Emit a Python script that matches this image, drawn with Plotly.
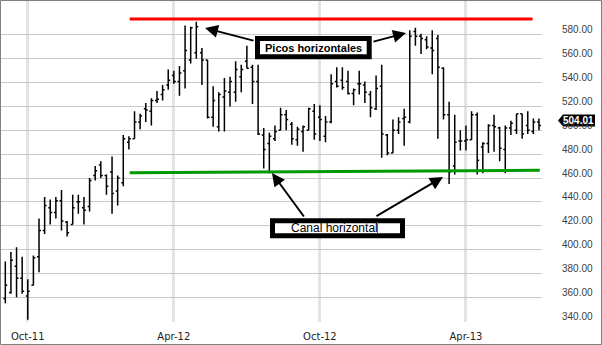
import plotly.graph_objects as go
import pandas as pd

# ---- weekly OHLC values ----
opens = [359, 364, 386, 376, 361, 370, 394, 416, 435, 431, 441, 423, 421, 440, 435, 436,
         462, 471, 462, 465, 449, 456, 490, 493, 507, 518, 516, 525, 530, 538, 546, 541,
         550, 559, 565, 565, 559, 511, 503, 528, 532, 532, 545, 558, 553, 541, 496, 489,
         493, 500, 513, 505, 492, 499, 500, 516, 511, 495, 507, 541, 542, 541, 531, 539,
         538, 530, 518, 537, 496, 481, 500, 510, 507, 583, 579, 576, 569, 577, 552, 513,
         470, 491, 491, 492, 513, 486, 489, 504, 502, 484, 502, 500, 514, 504, 499, 507]
highs = [390, 398, 402, 394, 375, 395, 426, 444, 442, 444, 450, 424, 446, 446, 444, 460,
         470, 474, 463, 478, 462, 496, 495, 516, 514, 523, 527, 533, 538, 551, 550, 554,
         588, 587, 591, 569, 559, 537, 532, 544, 545, 558, 555, 571, 555, 555, 502, 498,
         504, 519, 517, 507, 503, 504, 519, 522, 521, 512, 547, 553, 553, 550, 535, 550,
         541, 533, 546, 555, 497, 509, 511, 518, 584, 586, 581, 579, 584, 580, 553, 524,
         513, 500, 504, 516, 515, 490, 505, 513, 503, 504, 508, 514, 514, 516, 510, 510]
lows = [355, 363, 360, 363, 341, 370, 381, 413, 421, 426, 416, 411, 421, 430, 421, 432,
        458, 460, 446, 430, 437, 453, 484, 493, 501, 507, 504, 523, 525, 534, 539, 529,
        535, 556, 560, 538, 510, 503, 499, 499, 520, 524, 532, 552, 522, 496, 468, 464,
        491, 500, 500, 488, 487, 482, 500, 492, 491, 490, 506, 536, 534, 530, 521, 530,
        523, 511, 517, 477, 479, 481, 497, 487, 506, 571, 564, 568, 547, 493, 509, 455,
        463, 483, 483, 492, 463, 464, 481, 482, 474, 464, 496, 497, 493, 497, 497, 500]
closes = [370, 391, 376, 365, 365, 393, 416, 437, 431, 441, 424, 414, 435, 440, 433, 458,
          466, 462, 453, 447, 460, 493, 493, 507, 512, 517, 525, 526, 534, 542, 541, 548,
          567, 586, 587, 559, 511, 525, 530, 533, 541, 551, 551, 552, 541, 497, 484, 495,
          499, 513, 509, 493, 501, 503, 518, 497, 509, 507, 539, 537, 536, 531, 534, 539,
          532, 519, 535, 497, 481, 500, 507, 511, 579, 579, 577, 570, 567, 553, 513, 465,
          490, 491, 492, 513, 475, 489, 504, 503, 485, 502, 506, 514, 497, 500, 507, 504.01]
week_dates = pd.date_range("2011-09-05", periods=len(closes), freq="7D")

# axis ticks
x_tick_dates = ["2011-10-03", "2012-04-02", "2012-10-01", "2013-04-01"]
y_grid = [340, 360, 380, 400, 420, 440, 460, 480, 500, 520, 540, 560, 580]

# horizontal lines
resistance_x = ["2012-02-07", "2013-06-23"]
resistance_y = [593.3, 593.3]
support_x = ["2012-02-07", "2013-07-02"]
support_y = [464.5, 466.5]

W, H = 602, 345
ML, MR, MT, MB = 1, 60, 1, 23
PW, PH = W - ML - MR, H - MT - MB


def px(x):
    return (x - ML) / PW


def py(y):
    return 1 - (y - MT) / PH


fig = go.Figure()
fig.add_trace(go.Ohlc(
    x=week_dates, open=opens, high=highs, low=lows, close=closes,
    increasing=dict(line=dict(color="black", width=1.5)),
    decreasing=dict(line=dict(color="black", width=1.5)),
    tickwidth=0.35, hoverinfo="skip", showlegend=False,
))
fig.add_trace(go.Scatter(x=resistance_x, y=resistance_y, mode="lines",
                         line=dict(color="#ff0000", width=3), hoverinfo="skip", showlegend=False))
fig.add_trace(go.Scatter(x=support_x, y=support_y, mode="lines",
                         line=dict(color="#009a00", width=3), hoverinfo="skip", showlegend=False))

shapes = []
annotations = []

# boxes
shapes.append(dict(type="rect", xref="paper", yref="paper",
                   x0=px(257.5), x1=px(369.2), y0=py(56.8), y1=py(38.5),
                   line=dict(color="black", width=5), fillcolor="white", layer="above"))
shapes.append(dict(type="rect", xref="paper", yref="paper",
                   x0=px(272.5), x1=px(402.5), y0=py(235.8), y1=py(220.8),
                   line=dict(color="black", width=5), fillcolor="white", layer="above"))
# text cursor
shapes.append(dict(type="line", xref="paper", yref="paper",
                   x0=px(377.5), x1=px(377.5), y0=py(233), y1=py(222),
                   line=dict(color="#2a6fd6", width=1), layer="above"))

annotations.append(dict(xref="paper", yref="paper", x=px(313.5), y=py(47.6),
                        xanchor="center", yanchor="middle",
                        text="<b>Picos horizontales</b>", showarrow=False,
                        font=dict(family="Liberation Sans", size=11, color="black")))
annotations.append(dict(xref="paper", yref="paper", x=px(334.5), y=py(228.3),
                        xanchor="center", yanchor="middle",
                        text="Canal horizontal", showarrow=False,
                        font=dict(family="Liberation Sans", size=12, color="black")))

# arrows: (tail_x, tail_y, head_x, head_y) in pixels
arrows = [(255, 41, 205, 28), (372, 42, 406, 33), (305, 218, 272, 173), (375, 217, 443, 177)]
for tx, ty, hx, hy in arrows:
    annotations.append(dict(xref="paper", yref="paper", x=px(hx), y=py(hy),
                            ax=tx - hx, ay=ty - hy, axref="pixel", ayref="pixel",
                            text="", showarrow=True, arrowhead=2, arrowsize=1.3,
                            arrowwidth=2, arrowcolor="black", standoff=0, startstandoff=0))

# y tick labels (drawn slightly above their gridlines)
for v in y_grid:
    annotations.append(dict(xref="paper", yref="y", x=1, y=v, xanchor="center",
                            yanchor="middle", xshift=35, yshift=5, text=f"{v:.2f}",
                            showarrow=False,
                            font=dict(family="Liberation Sans", size=10, color="#404040")))

# last price tag
last = closes[-1]
shapes.append(dict(type="path", xref="paper", yref="y", xsizemode="pixel", ysizemode="pixel",
                   xanchor=1, yanchor=last,
                   path="M16,5 L21,11 L53,11 L53,-1 L21,-1 Z",
                   fillcolor="black", line=dict(color="black", width=0), layer="above"))
annotations.append(dict(xref="paper", yref="y", x=1, y=last, xanchor="center",
                        yanchor="middle", xshift=36, yshift=5, text=f"<b>{last:.2f}</b>",
                        showarrow=False,
                        font=dict(family="Liberation Sans", size=10, color="white")))

# outer frame
shapes.append(dict(type="rect", xref="paper", yref="paper",
                   x0=px(0.5), x1=px(601.5), y0=py(344.5), y1=py(0.5),
                   line=dict(color="#808080", width=1), layer="above"))

fig.update_layout(
    width=W, height=H,
    margin=dict(l=ML, r=MR, t=MT, b=MB, pad=0),
    paper_bgcolor="white", plot_bgcolor="white",
    showlegend=False,
    shapes=shapes, annotations=annotations,
    xaxis=dict(type="date", range=["2011-08-30 15:00", "2013-07-04 18:00"],
               tickvals=x_tick_dates, tickformat="%b-%y",
               showgrid=True, gridcolor="#e3e3e3", gridwidth=3,
               zeroline=False, showline=False, ticks="", ticklabelstandoff=7,
               rangeslider=dict(visible=False),
               tickfont=dict(family="DejaVu Sans", size=10, color="#222222")),
    yaxis=dict(range=[339.2, 608.5], tickvals=y_grid, showticklabels=False,
               showgrid=True, gridcolor="#c8c8c8", gridwidth=1,
               zeroline=False, showline=False, ticks="", side="right"),
)

fig.write_html("out.html")
